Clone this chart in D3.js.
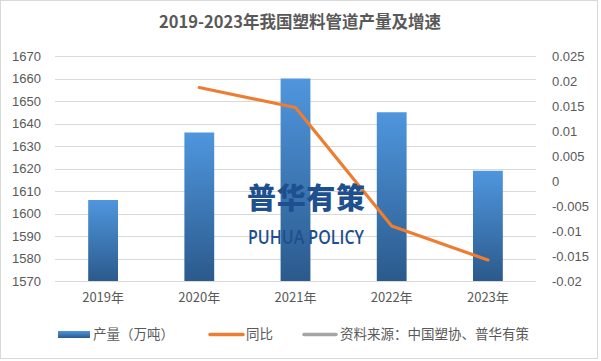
<!DOCTYPE html>
<html>
<head>
<meta charset="utf-8">
<script src="https://cdn.jsdelivr.net/npm/d3@7"></script>
<style>
  body { margin: 0; background: #fff; }
  text { fill: #595959; }
  .num { font-family: "Liberation Sans", Arial, sans-serif; font-size: 13px; }
  .cjk { font-family: "Noto Sans CJK SC", sans-serif; }
</style>
</head>
<body>
<div id="chart"></div>
<script>
// Data.
const years = ["2019年", "2020年", "2021年", "2022年", "2023年"];
const output = [1606, 1636, 1660, 1645, 1619];
const growth = [null, 0.0187, 0.0147, -0.0090, -0.0158];
const leftTicks = [1570, 1580, 1590, 1600, 1610, 1620, 1630, 1640, 1650, 1660, 1670];
const rightTicks = [-0.02, -0.015, -0.01, -0.005, 0, 0.005, 0.01, 0.015, 0.02, 0.025];

const fWidth = 601, fHeight = 361;
const plot = { left: 55, right: 536, top: 56, bottom: 281 };

const svg = d3.select("#chart").append("svg")
  .attr("width", fWidth)
  .attr("height", fHeight);

// Bar gradient.
const grad = svg.append("defs").append("linearGradient")
  .attr("id", "barGrad")
  .attr("x1", 0).attr("y1", 0).attr("x2", 0).attr("y2", 1);
grad.append("stop").attr("offset", "0%").attr("stop-color", "#4F96DE");
grad.append("stop").attr("offset", "100%").attr("stop-color", "#2B5A8C");

// Chart frame.
svg.append("rect")
  .attr("x", 0.5).attr("y", 0.5)
  .attr("width", 597).attr("height", 358)
  .attr("fill", "#fff")
  .attr("stroke", "#d9d9d9");

// Title.
svg.append("text")
  .attr("class", "cjk")
  .attr("x", 300).attr("y", 28)
  .attr("text-anchor", "middle")
  .style("font-size", "16.5px")
  .style("font-weight", "bold")
  .text("2019-2023年我国塑料管道产量及增速");

// Scales.
const xScale = d3.scaleBand()
  .domain(years)
  .range([plot.left, plot.right])
  .paddingInner(0.69)
  .paddingOuter(0.345);

const yScale = d3.scaleLinear()
  .domain([1570, 1670])
  .range([plot.bottom, plot.top]);

const y2Scale = d3.scaleLinear()
  .domain([-0.02, 0.025])
  .range([plot.bottom, plot.top]);

// Gridlines.
svg.append("g")
  .selectAll("line")
  .data(leftTicks)
  .enter()
  .append("line")
    .attr("x1", plot.left)
    .attr("x2", plot.right)
    .attr("y1", d => Math.round(yScale(d)) + 0.5)
    .attr("y2", d => Math.round(yScale(d)) + 0.5)
    .attr("stroke", "#d9d9d9");

// Left axis.
const yAxis = svg.append("g")
  .attr("transform", `translate(${ plot.left } 0)`)
  .call(d3.axisLeft(yScale).tickValues(leftTicks).tickSize(0).tickPadding(14).tickFormat(d3.format("d")));
yAxis.select(".domain").remove();
yAxis.selectAll("text").attr("class", "num").attr("fill", "#595959");

// Right axis.
const y2Axis = svg.append("g")
  .attr("transform", `translate(${ plot.right } 0)`)
  .call(d3.axisRight(y2Scale).tickValues(rightTicks).tickSize(0).tickPadding(16).tickFormat(d => String(+d.toFixed(3))));
y2Axis.select(".domain").remove();
y2Axis.selectAll("text").attr("class", "num").attr("fill", "#595959");

// Bottom axis labels.
const xAxis = svg.append("g")
  .attr("transform", `translate(0 ${ plot.bottom })`)
  .call(d3.axisBottom(xScale).tickSize(0).tickPadding(12));
xAxis.select(".domain").remove();
xAxis.selectAll("text")
  .attr("class", "cjk")
  .attr("fill", "#595959")
  .style("font-size", "13px");

// Bars.
svg.append("g")
  .selectAll("rect")
  .data(output)
  .enter()
  .append("rect")
    .attr("x", (d, i) => xScale(years[i]))
    .attr("y", d => yScale(d))
    .attr("width", xScale.bandwidth())
    .attr("height", d => plot.bottom - yScale(d))
    .attr("fill", "url(#barGrad)");

// Growth line.
const pathGen = d3.line()
  .defined(d => d !== null)
  .x((d, i) => xScale(years[i]) + xScale.bandwidth() / 2)
  .y(d => y2Scale(d));

svg.append("path")
  .attr("d", pathGen(growth))
  .attr("fill", "none")
  .attr("stroke", "#ED7D31")
  .attr("stroke-width", 3.2)
  .attr("stroke-linejoin", "round")
  .attr("stroke-linecap", "round");

// Watermark.
svg.append("text")
  .attr("x", 306).attr("y", 209)
  .attr("text-anchor", "middle")
  .style("font-family", "'Noto Sans CJK SC', sans-serif")
  .style("font-size", "29px")
  .style("font-weight", "900")
  .style("fill", "#1E4F8E")
  .attr("textLength", 118)
  .text("普华有策");

svg.append("text")
  .attr("x", 306).attr("y", 244)
  .attr("text-anchor", "middle")
  .style("font-family", "'Open Sans', sans-serif")
  .style("font-size", "20px")
  .style("font-weight", "600")
  .style("fill", "#1E4F8E")
  .attr("textLength", 116)
  .attr("lengthAdjust", "spacingAndGlyphs")
  .text("PUHUA POLICY");

// Legend.
const legend = svg.append("g").attr("class", "cjk").style("font-size", "13.5px");
legend.append("rect")
  .attr("x", 58).attr("y", 331).attr("width", 32).attr("height", 7)
  .attr("fill", "url(#barGrad)");
legend.append("text").attr("x", 93).attr("y", 339).text("产量（万吨）");

legend.append("line")
  .attr("x1", 210).attr("x2", 243).attr("y1", 334.5).attr("y2", 334.5)
  .attr("stroke", "#ED7D31").attr("stroke-width", 3.5).attr("stroke-linecap", "round");
legend.append("text").attr("x", 246).attr("y", 339).text("同比");

legend.append("line")
  .attr("x1", 304).attr("x2", 336).attr("y1", 334.5).attr("y2", 334.5)
  .attr("stroke", "#A5A5A5").attr("stroke-width", 3.5).attr("stroke-linecap", "round");
legend.append("text").attr("x", 340).attr("y", 339).text("资料来源：中国塑协、普华有策");
</script>
</body>
</html>
